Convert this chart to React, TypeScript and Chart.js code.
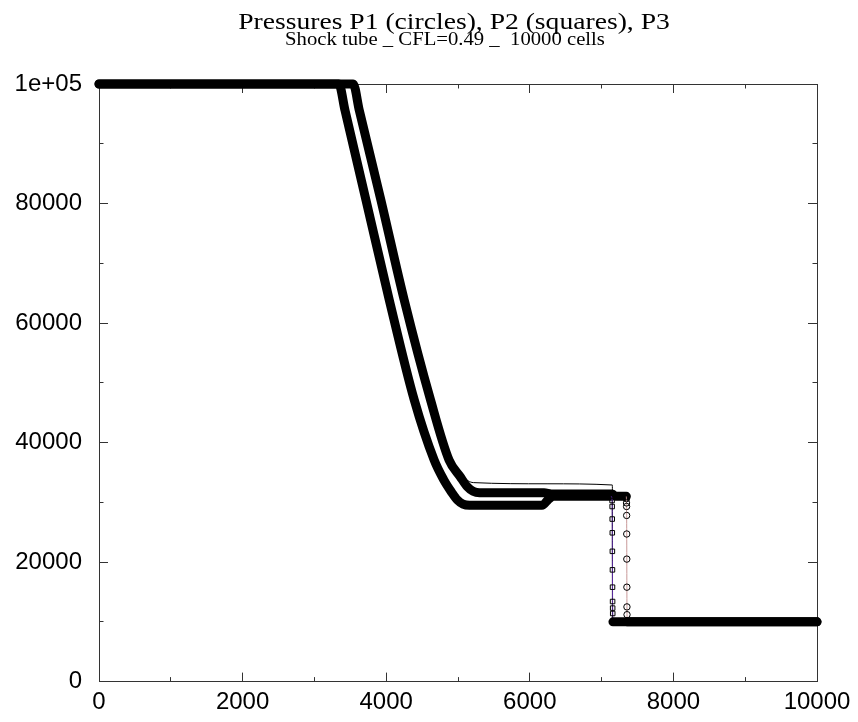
import React, { useEffect, useRef } from 'react';
import { Chart, registerables } from 'chart.js';
Chart.register(...registerables);

// P1 (circles) — right curve
const p1HighX = [0, 3540, 3625, 3926, 4250, 4616, 4875, 5030, 5130, 5210, 5300, 6200, 6300, 7150, 7190, 7345];
const p1HighY = [100000, 100000, 95600, 80600, 63900, 47200, 37100, 34300, 32600, 31850, 31600, 31600, 31400, 31400, 31000, 31000];
const p1ShockX = [7346, 7347, 7348, 7349, 7350, 7351, 7352, 7353, 7354];
const p1ShockY = [30600, 29900, 29300, 27800, 24700, 20500, 15800, 12500, 11200];
const p1LowX = [7356, 10000];
const p1LowY = [10000, 10000];

// P2 (squares) — left curve
const p2HighX = [0, 3340, 3426, 3718, 4042, 4389, 4667, 4800, 4910, 4990, 5070, 5160, 6170, 6260, 6330, 7135];
const p2HighY = [100000, 100000, 95600, 80600, 63900, 47200, 37100, 33800, 31700, 30400, 29700, 29500, 29500, 30500, 31000, 31000];
const p2ShockX = [7146, 7147, 7148, 7149, 7150, 7151, 7152, 7153, 7154, 7155];
const p2ShockY = [30300, 29300, 27200, 24900, 21800, 18700, 15800, 13400, 12300, 11400];
const p2LowX = [7158, 10000];
const p2LowY = [10000, 10000];

// P3 — thin line
const p3X = [0, 3550, 3630, 3935, 4260, 4625, 4885, 5040, 5140, 5213, 6240, 7150, 7151, 10000];
const p3Y = [100000, 100000, 95600, 80600, 63900, 47200, 37100, 34600, 33600, 33300, 33100, 32900, 10000, 10000];

const xTickValues = [0, 2000, 4000, 6000, 8000, 10000];
const xTickLabels = ['0', '2000', '4000', '6000', '8000', '10000'];
const yTickValues = [0, 20000, 40000, 60000, 80000, 100000];
const yTickLabels = ['0', '20000', '40000', '60000', '80000', '1e+05'];

const titleText = 'Pressures P1 (circles), P2 (squares), P3';
const subtitleText = 'Shock tube _ CFL=0.49 _  10000 cells';

function zip(xs: number[], ys: number[]) {
  return xs.map((x, i) => ({ x, y: ys[i] }));
}

function series(hx: number[], hy: number[], sx: number[], sy: number[], lx: number[], ly: number[]) {
  const data = [...zip(hx, hy), ...zip(sx, sy), ...zip(lx, ly)];
  const a = hx.length - 1; // last high point
  const b = hx.length + sx.length; // first low point
  return { data, a, b };
}

// Centre the title blocks like the reference and give them its slightly wide letterforms
const titleLook = {
  id: 'titleLook',
  afterLayout(chart: any) {
    const W = chart.width;
    for (const box of chart.boxes) {
      const t = box && box.options && box.options.text;
      let cx = 0;
      let sx = 1;
      if (t === titleText) { cx = 454; sx = 1.2; }
      else if (t === subtitleText) { cx = 445; sx = 1.15; }
      else continue;
      box.left = 2 * cx - W;
      box.right = W;
      box.width = W - box.left;
      if (!box.__wide) {
        const orig = box.draw;
        box.draw = function (area: any) {
          const ctx = this.ctx;
          ctx.save();
          ctx.translate(cx, 0);
          ctx.scale(sx, 1);
          ctx.translate(-cx, 0);
          orig.call(this, area);
          ctx.restore();
        };
        box.__wide = true;
      }
    }
  },
};

export default function App() {
  const ref = useRef<HTMLCanvasElement>(null);
  useEffect(() => {
    document.body.style.margin = '0';
    const frame = '#333';
    const s1 = series(p1HighX, p1HighY, p1ShockX, p1ShockY, p1LowX, p1LowY);
    const s2 = series(p2HighX, p2HighY, p2ShockX, p2ShockY, p2LowX, p2LowY);

    const mkAxis = (dir: 'x' | 'y', position: string, weight: number, step: number, tl: number, labels: boolean, border: boolean, size: number, pad: number, lh: number) => ({
      type: 'linear',
      axis: dir,
      position,
      weight,
      min: 0,
      max: dir === 'x' ? 10000 : 100000,
      ticks: {
        display: labels,
        stepSize: step,
        autoSkip: false,
        maxRotation: 0,
        padding: pad,
        color: '#000',
        font: { family: 'Liberation Sans', size: 24, lineHeight: lh },
        callback: (v: any) => {
          const vals = dir === 'x' ? xTickValues : yTickValues;
          const labs = dir === 'x' ? xTickLabels : yTickLabels;
          const i = vals.indexOf(Number(v));
          return i >= 0 ? labs[i] : '';
        },
      },
      grid: { display: true, drawOnChartArea: false, drawTicks: true, tickLength: tl, tickColor: frame, tickWidth: 1 },
      border: { display: border, color: frame, width: 1 },
      afterFit: (s: any) => {
        if (dir === 'x') s.height = size; else s.width = size;
      },
    });

    const seriesDs = (s: { data: any[]; a: number; b: number }, label: string, thin: string, style: string) => ({
      label,
      data: s.data,
      showLine: true,
      clip: false,
      cubicInterpolationMode: 'monotone',
      borderColor: '#000',
      borderWidth: 9,
      borderCapStyle: 'round',
      borderJoinStyle: 'round',
      segment: {
        borderWidth: (c: any) => (c.p0DataIndex >= s.a && c.p1DataIndex <= s.b ? 1 : 9),
        borderColor: (c: any) => (c.p0DataIndex >= s.a && c.p1DataIndex <= s.b ? thin : '#000'),
      },
      pointStyle: style,
      pointRadius: (c: any) => (c.dataIndex > s.a && c.dataIndex < s.b ? 3.2 : 0),
      pointBorderColor: '#000',
      pointBackgroundColor: 'rgba(0,0,0,0)',
      pointBorderWidth: 1,
    });

    const chart = new Chart(ref.current!, {
      type: 'scatter',
      data: {
        datasets: [
          seriesDs(s2, 'P2', '#5a2aa0', 'rect'),
          seriesDs(s1, 'P1', '#c89898', 'circle'),
          {
            label: 'P3',
            data: zip(p3X, p3Y),
            showLine: true,
            clip: false,
            cubicInterpolationMode: 'monotone',
            borderColor: '#000',
            borderWidth: 1,
            pointRadius: 0,
          },
        ],
      } as any,
      options: {
        responsive: false,
        animation: false,
        layout: { padding: 0 },
        plugins: {
          legend: { display: false },
          tooltip: { enabled: false },
          title: {
            display: true,
            text: titleText,
            color: '#000',
            font: { family: 'Liberation Serif', size: 23, weight: 'normal', lineHeight: 1 },
            padding: { top: 11, bottom: 0 },
          },
          subtitle: {
            display: true,
            text: subtitleText,
            color: '#000',
            font: { family: 'Liberation Serif', size: 18, weight: 'normal', lineHeight: 1 },
            padding: { top: -2.5, bottom: 34.5 },
          },
        },
        scales: {
          x: mkAxis('x', 'bottom', 1, 2000, -9, true, true, 40, 6, 2),
          xMinor: mkAxis('x', 'bottom', 0, 1000, -4.5, false, false, 0, 0, 1.2),
          xTop: mkAxis('x', 'top', 1, 2000, -9, false, true, 0, 0, 1.2),
          xTopMinor: mkAxis('x', 'top', 0, 1000, -4.5, false, false, 0, 0, 1.2),
          y: mkAxis('y', 'left', 1, 20000, -9, true, true, 99, 26, 1.2),
          yMinor: mkAxis('y', 'left', 0, 10000, -4.5, false, false, 0, 0, 1.2),
          yRight: mkAxis('y', 'right', 1, 20000, -9, false, true, 41, 0, 1.2),
          yRightMinor: mkAxis('y', 'right', 0, 10000, -4.5, false, false, 0, 0, 1.2),
        } as any,
      } as any,
      plugins: [titleLook],
    });
    return () => chart.destroy();
  }, []);
  return <canvas ref={ref} width={858} height={722} />;
}
